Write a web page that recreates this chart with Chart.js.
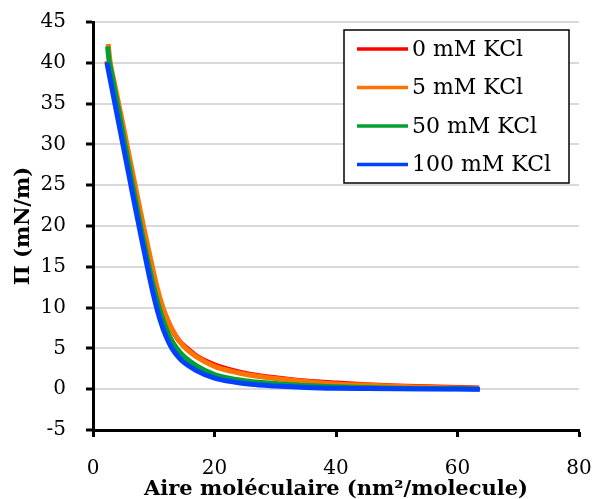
<!DOCTYPE html>
<html>
<head>
<meta charset="utf-8">
<script src="https://cdn.jsdelivr.net/npm/chart.js@4.4.1/dist/chart.umd.min.js"></script>
<style>
  html, body { margin: 0; padding: 0; background: #fff; }
  #wrap { width: 599px; height: 499px; }
</style>
</head>
<body>
<div id="wrap"><canvas id="isotherm"></canvas></div>
<script>
// molecular area (nm2/molecule) and surface pressure (mN/m)
const area0 = [2.3, 3, 4, 5, 6, 7, 8, 9, 10, 11, 12, 13, 14, 15.5, 17, 20, 23, 26, 30, 35, 40, 45, 50, 55, 60, 63.5]
const pi0 = [40.2, 37.8, 34.2, 30.6, 27, 23.5, 20, 16.8, 13.5, 10.9, 8.9, 7.3, 6.1, 5.0, 4.1, 3.0, 2.3, 1.8, 1.4, 1.0, 0.75, 0.55, 0.4, 0.3, 0.2, 0.15]

const area5 = [2.5, 2.8, 3.5, 4.5, 5.5, 6.5, 7.5, 8.5, 9.5, 10.5, 11.5, 12.5, 13.5, 15, 17, 20, 23, 26, 30, 35, 40, 45, 50, 55, 60, 63.5]
const pi5 = [42.3, 40.2, 37.6, 34, 30.3, 26.6, 22.9, 19.3, 15.9, 12.6, 10.0, 8.1, 6.7, 5.2, 4.0, 2.8, 2.15, 1.7, 1.3, 0.95, 0.65, 0.5, 0.35, 0.25, 0.15, 0.1]

const area50 = [2.4, 2.6, 3, 4, 5, 6, 7, 8, 9, 10, 11, 12, 13, 14, 15, 17, 20, 23, 26, 30, 35, 40, 45, 50, 55, 60, 63.5]
const pi50 = [42, 40.5, 39, 35, 31, 27.1, 23.2, 19.4, 15.8, 12.5, 9.7, 7.5, 5.9, 4.8, 4.0, 2.9, 1.8, 1.25, 0.95, 0.7, 0.45, 0.3, 0.2, 0.12, 0.08, 0.05, 0.03]

const area100 = [2.3, 3, 4, 5, 6, 7, 8, 9, 10, 11, 12, 13, 14, 15, 17, 20, 23, 26, 30, 35, 40, 45, 50, 55, 60, 63.7]
const pi100 = [40, 37.3, 33.5, 29.7, 25.9, 22.1, 18.4, 14.8, 11.4, 8.6, 6.5, 5.0, 4.0, 3.25, 2.3, 1.35, 0.9, 0.6, 0.4, 0.22, 0.12, 0.08, 0.05, 0.03, 0.02, 0.0]

const seriesLabels = ["0 mM KCl", "5 mM KCl", "50 mM KCl", "100 mM KCl"]
const seriesColors = ["#ff0000", "#ff7400", "#00a032", "#0041ff"]

const xTicks = [0, 20, 40, 60, 80]
const yTicks = [-5, 0, 5, 10, 15, 20, 25, 30, 35, 40, 45]

function toPoints(xs, ys) {
    return xs.map((x, i) => ({ x: x, y: ys[i] }))
}

const allSeries = [[area0, pi0], [area5, pi5], [area50, pi50], [area100, pi100]]

const datasets = allSeries.map((s, i) => ({
    label: seriesLabels[i],
    data: toPoints(s[0], s[1]),
    borderColor: seriesColors[i],
    backgroundColor: seriesColors[i],
    borderWidth: 5,
    pointRadius: 0,
    showLine: true,
    cubicInterpolationMode: 'monotone',
    order: 4 - i   // blue ends on top
}))

// legend drawn in a box inside the plot, top right
const boxLegend = {
    id: 'boxLegend',
    afterDatasetsDraw(chart) {
        const ctx = chart.ctx
        const area = chart.chartArea
        const w = 225, h = 153
        const left = area.right - 10 - w
        const top = area.top + 8
        ctx.save()
        ctx.fillStyle = '#fff'
        ctx.fillRect(left, top, w, h)
        ctx.strokeStyle = '#000'
        ctx.lineWidth = 1.5
        ctx.strokeRect(left, top, w, h)
        ctx.font = '22px "DejaVu Serif"'
        ctx.textBaseline = 'middle'
        ctx.fillStyle = '#000'
        seriesLabels.forEach((lab, i) => {
            const y = top + 19 + i * 38.5
            ctx.strokeStyle = seriesColors[i]
            ctx.lineWidth = 3.5
            ctx.beginPath()
            ctx.moveTo(left + 13, y)
            ctx.lineTo(left + 64, y)
            ctx.stroke()
            ctx.fillText(lab, left + 68, y + 1)
        })
        ctx.restore()
    }
}

document.addEventListener('DOMContentLoaded', function () {
    const ctx = document.getElementById('isotherm').getContext('2d')
    const chart = new Chart(ctx, {
        type: 'scatter',
        data: { datasets: datasets },
        options: {
            responsive: true,
            maintainAspectRatio: false,
            animation: false,
            layout: { padding: { top: 22, right: 20, left: 0, bottom: 0 } },
            plugins: {
                legend: { display: false },
                tooltip: { enabled: false }
            },
            scales: {
                x: {
                    type: 'linear',
                    min: 0,
                    max: 80,
                    afterBuildTicks: axis => { axis.ticks = xTicks.map(v => ({ value: v })) },
                    border: { color: '#000', width: 3 },
                    grid: { drawOnChartArea: false, drawTicks: true, tickLength: 7, tickWidth: 3, tickColor: '#000' },
                    ticks: { color: '#000', padding: 20, maxRotation: 0, font: { family: 'DejaVu Serif', size: 20 } },
                    title: {
                        display: true,
                        text: 'Aire moléculaire (nm²/molecule)',
                        color: '#000',
                        padding: { top: -12, bottom: -3 },
                        font: { family: 'DejaVu Serif', size: 21, weight: 'bold' }
                    },
                    afterFit: scale => {
                        scale.height = 69
                        scale.paddingLeft = 0
                        scale.paddingRight = 0
                    }
                },
                y: {
                    type: 'linear',
                    min: -5,
                    max: 45,
                    afterBuildTicks: axis => { axis.ticks = yTicks.map(v => ({ value: v })) },
                    border: { color: '#000', width: 3 },
                    grid: { color: '#d9d9d9', lineWidth: 2, drawTicks: true, tickLength: 7, tickWidth: 3, tickColor: '#000' },
                    ticks: { color: '#000', padding: 20, font: { family: 'DejaVu Serif', size: 20 } },
                    title: {
                        display: true,
                        text: 'Π (mN/m)',
                        color: '#000',
                        padding: { top: 11, bottom: 0 },
                        font: { family: 'DejaVu Serif', size: 21, weight: 'bold' }
                    },
                    afterFit: scale => {
                        scale.width = 93
                        scale.paddingTop = 0
                        scale.paddingBottom = 0
                    }
                }
            }
        },
        plugins: [boxLegend]
    })
})
</script>
</body>
</html>
